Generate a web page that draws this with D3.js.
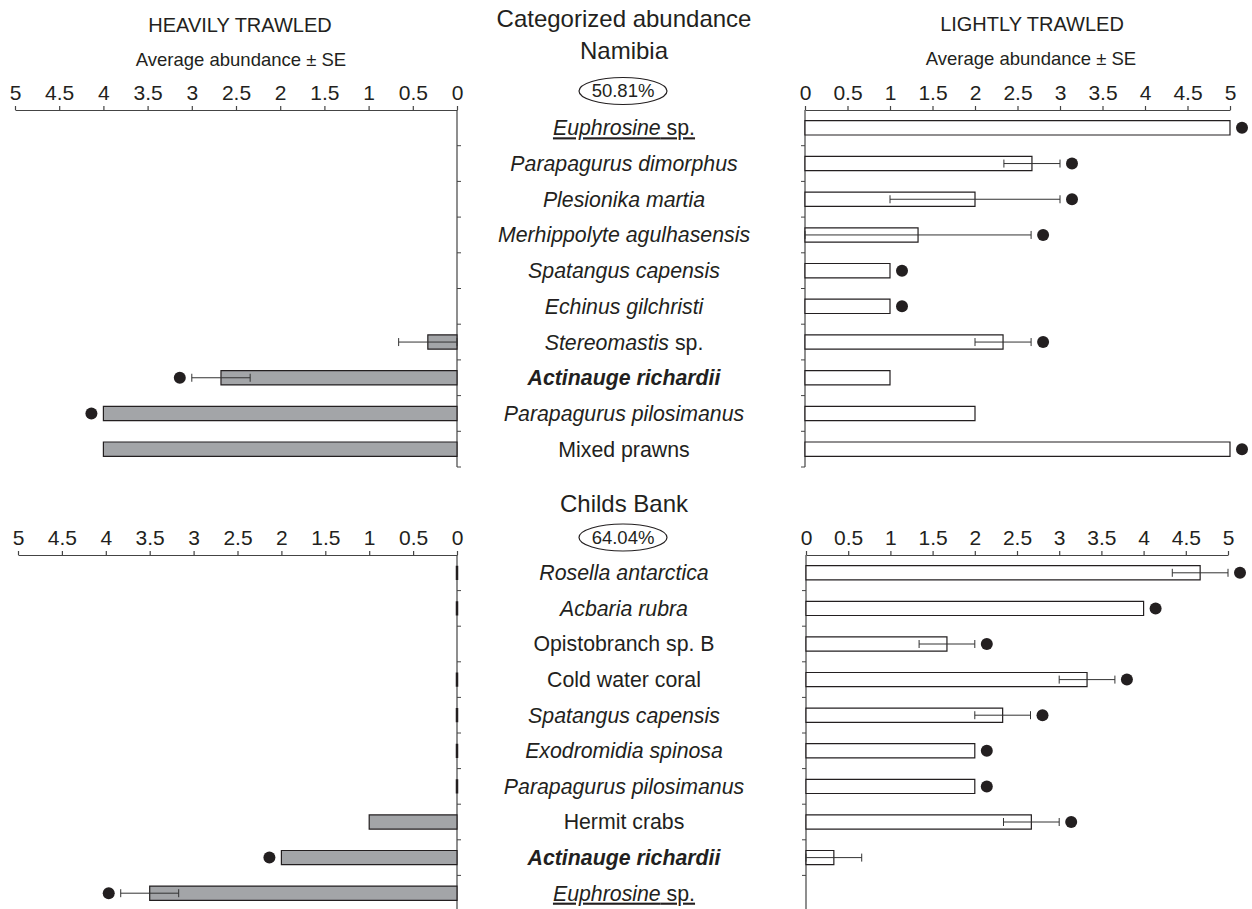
<!DOCTYPE html>
<html>
<head>
<meta charset="utf-8">
<script src="https://cdn.jsdelivr.net/npm/d3@7"></script>
<style>
  body { margin: 0; background: #fff; }
  svg { font-family: 'Liberation Sans', Arial, Helvetica, sans-serif; }
</style>
</head>
<body>
<div id="canvas"></div>
<script>
const tickVals = [0, 0.5, 1, 1.5, 2, 2.5, 3, 3.5, 4, 4.5, 5]

const namibiaSpecies = [
  'Euphrosine sp.', 'Parapagurus dimorphus', 'Plesionika martia',
  'Merhippolyte agulhasensis', 'Spatangus capensis', 'Echinus gilchristi',
  'Stereomastis sp.', 'Actinauge richardii', 'Parapagurus pilosimanus', 'Mixed prawns'
]
const namibiaHeavy = [null, null, null, null, null, null, 0.33, 2.67, 4, 4]
const namibiaHeavySE = [0, 0, 0, 0, 0, 0, 0.33, 0.33, 0, 0]
const namibiaHeavyDot = [false, false, false, false, false, false, false, true, true, false]
const namibiaLight = [5, 2.67, 2, 1.33, 1, 1, 2.33, 1, 2, 5]
const namibiaLightSE = [0, 0.33, 1, 1.33, 0, 0, 0.33, 0, 0, 0]
const namibiaLightDot = [true, true, true, true, true, true, true, false, false, true]

const childsSpecies = [
  'Rosella antarctica', 'Acbaria rubra', 'Opistobranch sp. B', 'Cold water coral',
  'Spatangus capensis', 'Exodromidia spinosa', 'Parapagurus pilosimanus',
  'Hermit crabs', 'Actinauge richardii', 'Euphrosine sp.'
]
const childsHeavy = [0, 0, null, 0, 0, 0, 0, 1, 2, 3.5]
const childsHeavySE = [0, 0, 0, 0, 0, 0, 0, 0, 0, 0.33]
const childsHeavyDot = [false, false, false, false, false, false, false, false, true, true]
const childsLight = [4.67, 4, 1.67, 3.33, 2.33, 2, 2, 2.67, 0.33, null]
const childsLightSE = [0.33, 0, 0.33, 0.33, 0.33, 0, 0, 0.33, 0.33, 0]
const childsLightDot = [true, true, true, true, true, true, true, true, false, false]

const plainNames = ['Mixed prawns', 'Opistobranch sp. B', 'Cold water coral', 'Hermit crabs']
const boldNames = ['Actinauge richardii']
const underlineNames = ['Euphrosine sp.']

const width = 1252
const height = 909
const ink = '#231f20'
const labelX = 624

const svg = d3.select('#canvas')
  .append('svg')
    .attr('width', width)
    .attr('height', height)
    .attr('viewBox', [0, 0, width, height])

function text(x, y, str, size) {
  return svg.append('text')
    .attr('x', x)
    .attr('y', y)
    .attr('text-anchor', 'middle')
    .attr('font-size', size)
    .attr('fill', ink)
    .text(str)
}

// headers
text(240, 32, 'HEAVILY TRAWLED', 20)
text(241, 66, 'Average abundance \u00b1 SE', 18.5)
text(1032, 31, 'LIGHTLY TRAWLED', 20)
text(1031, 65, 'Average abundance \u00b1 SE', 18.5)
text(labelX, 27, 'Categorized abundance', 24)
text(labelX, 59, 'Namibia', 24)
text(labelX, 512, 'Childs Bank', 24)

function pctBadge(cy, str) {
  svg.append('ellipse')
    .attr('cx', labelX - 1)
    .attr('cy', cy)
    .attr('rx', 44)
    .attr('ry', 13.5)
    .attr('fill', 'none')
    .attr('stroke', ink)
    .attr('stroke-width', 1.2)
  text(labelX - 1, cy, str, 18.5).attr('dy', '0.35em')
}
pctBadge(91, '50.81%')
pctBadge(537.5, '64.04%')

function speciesLabel(name, y) {
  const t = svg.append('text')
    .attr('x', labelX)
    .attr('y', y)
    .attr('dy', '0.35em')
    .attr('text-anchor', 'middle')
    .attr('font-size', 21.3)
    .attr('fill', ink)
  if (underlineNames.includes(name)) t.attr('text-decoration', 'underline')
  if (plainNames.includes(name)) {
    t.text(name)
  } else if (boldNames.includes(name)) {
    t.attr('font-style', 'italic').attr('font-weight', 'bold').text(name)
  } else if (name.endsWith(' sp.')) {
    t.append('tspan').attr('font-style', 'italic').text(name.slice(0, -4))
    t.append('tspan').text(' sp.')
  } else {
    t.attr('font-style', 'italic').text(name)
  }
}

function panel(opts) {
  const { cats, values, se, dots, range, yRange, side, fill } = opts
  const x = d3.scaleLinear().domain([0, 5]).range(range)
  const y = d3.scaleBand().domain(cats).range(yRange).paddingInner(0.6).paddingOuter(0.3)
  const g = svg.append('g')
  const x0 = x(0)
  const dir = side === 'left' ? -1 : 1

  // horizontal axis on top
  const xAxis = d3.axisTop(x)
    .tickValues(tickVals)
    .tickFormat(d => String(d))
    .tickSize(4)
    .tickSizeOuter(0)
    .tickPadding(6)
  const ax = g.append('g')
    .attr('transform', `translate(0, ${yRange[0]})`)
    .call(xAxis)
  ax.selectAll('text').attr('font-size', 21).attr('fill', ink).attr('font-family', null)
  ax.selectAll('line, path').attr('stroke', '#444').attr('stroke-width', 1.2)

  // vertical axis with ticks at category boundaries
  g.append('line')
    .attr('x1', x0).attr('x2', x0)
    .attr('y1', yRange[0]).attr('y2', yRange[1])
    .attr('stroke', '#444').attr('stroke-width', 1.2)
  const bounds = cats.map((c, i) => yRange[0] + (i + 1) * y.step())
  g.selectAll('.ytick')
    .data(bounds)
    .join('line')
      .attr('class', 'ytick')
      .attr('x1', x0)
      .attr('x2', x0 - dir * 4)
      .attr('y1', d => d)
      .attr('y2', d => d)
      .attr('stroke', '#444')
      .attr('stroke-width', 1)

  const rows = cats.map((c, i) => ({ c, v: values[i], se: se[i], dot: dots[i] }))
    .filter(d => d.v !== null)

  // bars drawn as paths so zero values still leave a stroke
  g.selectAll('.bar')
    .data(rows)
    .join('path')
      .attr('class', 'bar')
      .attr('d', d => {
        const yt = y(d.c), yb = y(d.c) + y.bandwidth()
        return `M${x0},${yt}H${x(d.v)}V${yb}H${x0}Z`
      })
      .attr('fill', fill)
      .attr('stroke', ink)
      .attr('stroke-width', d => d.v === 0 ? 2.5 : 1.2)

  const errs = rows.filter(d => d.se > 0)
  const cy = d => y(d.c) + y.bandwidth() / 2
  g.selectAll('.err')
    .data(errs)
    .join('path')
      .attr('class', 'err')
      .attr('d', d => {
        const a = x(d.v - d.se), b = x(d.v + d.se), m = cy(d)
        return `M${a},${m}H${b}M${a},${m - 4}V${m + 4}M${b},${m - 4}V${m + 4}`
      })
      .attr('fill', 'none')
      .attr('stroke', '#333')
      .attr('stroke-width', 1)

  g.selectAll('.dot')
    .data(rows.filter(d => d.dot))
    .join('circle')
      .attr('class', 'dot')
      .attr('cx', d => x(d.v + d.se) + dir * 12)
      .attr('cy', cy)
      .attr('r', 6)
      .attr('fill', ink)

  return y
}

const yTop = panel({
  cats: namibiaSpecies, values: namibiaHeavy, se: namibiaHeavySE, dots: namibiaHeavyDot,
  range: [457, 15], yRange: [110, 467], side: 'left', fill: '#a3a5a8'
})
panel({
  cats: namibiaSpecies, values: namibiaLight, se: namibiaLightSE, dots: namibiaLightDot,
  range: [805, 1230], yRange: [110, 467], side: 'right', fill: '#fff'
})
const yBot = panel({
  cats: childsSpecies, values: childsHeavy, se: childsHeavySE, dots: childsHeavyDot,
  range: [457, 18], yRange: [555, 911], side: 'left', fill: '#a3a5a8'
})
panel({
  cats: childsSpecies, values: childsLight, se: childsLightSE, dots: childsLightDot,
  range: [806, 1228], yRange: [555, 911], side: 'right', fill: '#fff'
})

namibiaSpecies.forEach(n => speciesLabel(n, yTop(n) + yTop.bandwidth() / 2))
childsSpecies.forEach(n => speciesLabel(n, yBot(n) + yBot.bandwidth() / 2))
</script>
</body>
</html>
